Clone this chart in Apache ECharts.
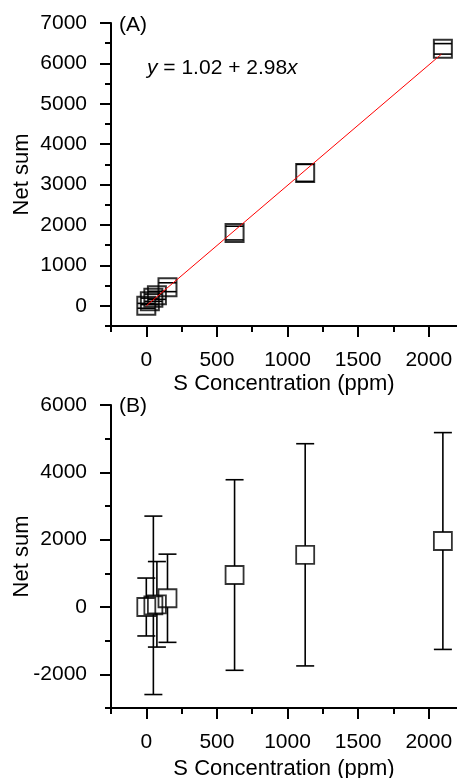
<!DOCTYPE html>
<html>
<head>
<meta charset="utf-8">
<script src="https://cdn.jsdelivr.net/npm/echarts@6/dist/echarts.min.js"></script>
<style>
  html, body { margin: 0; padding: 0; background: #fff; }
  #main { width: 457px; height: 778px; }
</style>
</head>
<body>
<div id="main"></div>
<script>
// panel (A): S concentration (ppm) vs net sum, with error
const concA = [0, 25, 50, 75, 150, 625, 1125, 2100];
const netA = [0, 110, 200, 260, 460, 1800, 3290, 6360];
const errA = [60, 80, 90, 100, 110, 170, 210, 130];
// fitted line y = 1.02 + 2.98x, end points
const fitA = [[0, 1.02], [2090, 6229]];

// panel (B)
const concB = [0, 50, 75, 150, 625, 1125, 2100];
const netB = [0, 50, 80, 260, 950, 1550, 1960];
const errB = [860, 2650, 1270, 1310, 2830, 3300, 3220];

// ticks
const xMajor = [0, 500, 1000, 1500, 2000];
const xMinor = [-250, 250, 750, 1250, 1750];
const yMajorA = [0, 1000, 2000, 3000, 4000, 5000, 6000, 7000];
const yMinorA = [-500, 500, 1500, 2500, 3500, 4500, 5500, 6500];
const yMajorB = [-2000, 0, 2000, 4000, 6000];
const yMinorB = [-3000, -1000, 1000, 3000, 5000];

const FONT = 'Liberation Sans, Arial, sans-serif';
const black = { color: '#000', width: 2 };
const plain = v => String(v);

function xAxes(gridIndex, gap) {
  return [
    {
      gridIndex: gridIndex, type: 'value', min: -250, max: 2200, position: 'bottom',
      name: 'S Concentration (ppm)', nameLocation: 'middle', nameGap: gap, nameMoveOverlap: false,
      nameTextStyle: { fontFamily: FONT, fontSize: 22, color: '#000' },
      axisLine: { show: true, onZero: false, lineStyle: black },
      axisTick: { show: true, customValues: xMajor, length: 11, lineStyle: black },
      axisLabel: { customValues: xMajor, formatter: plain, margin: 24, fontFamily: FONT, fontSize: 21, color: '#000' },
      splitLine: { show: false }
    },
    {
      gridIndex: gridIndex, type: 'value', min: -250, max: 2200, position: 'bottom',
      axisLine: { show: false, onZero: false },
      axisTick: { show: true, customValues: xMinor, length: 6, lineStyle: black },
      axisLabel: { show: false },
      splitLine: { show: false }
    }
  ];
}

function yAxes(gridIndex, min, max, major, minor) {
  return [
    {
      gridIndex: gridIndex, type: 'value', min: min, max: max, position: 'left',
      name: 'Net sum', nameLocation: 'middle', nameGap: 78, nameMoveOverlap: false,
      nameTextStyle: { fontFamily: FONT, fontSize: 22, color: '#000' },
      axisLine: { show: true, onZero: false, lineStyle: black },
      axisTick: { show: true, customValues: major, length: 11, lineStyle: black },
      axisLabel: { customValues: major, formatter: plain, margin: 24, fontFamily: FONT, fontSize: 21, color: '#000' },
      splitLine: { show: false }
    },
    {
      gridIndex: gridIndex, type: 'value', min: min, max: max, position: 'left',
      axisLine: { show: false, onZero: false },
      axisTick: { show: true, customValues: minor, length: 6, lineStyle: black },
      axisLabel: { show: false },
      splitLine: { show: false }
    }
  ];
}

// error bars start at the square's edge, caps as wide as the square
function errorBars(params, api) {
  const x = api.value(0), y = api.value(1), e = api.value(2);
  const c = api.coord([x, y]);
  const top = api.coord([x, y + e])[1];
  const bot = api.coord([x, y - e])[1];
  const half = 9;
  const style = { stroke: '#000', lineWidth: 1.6 };
  const kids = [
    { type: 'line', shape: { x1: c[0] - half, y1: top, x2: c[0] + half, y2: top }, style: style },
    { type: 'line', shape: { x1: c[0] - half, y1: bot, x2: c[0] + half, y2: bot }, style: style }
  ];
  if (c[1] - top > half) {
    kids.push({ type: 'line', shape: { x1: c[0], y1: top, x2: c[0], y2: c[1] - half }, style: style });
  }
  if (bot - c[1] > half) {
    kids.push({ type: 'line', shape: { x1: c[0], y1: c[1] + half, x2: c[0], y2: bot }, style: style });
  }
  return { type: 'group', children: kids };
}

const dataA = concA.map((c, i) => [c, netA[i], errA[i]]);
const dataB = concB.map((c, i) => [c, netB[i], errB[i]]);

const chart = echarts.init(document.getElementById('main'), null, { renderer: 'canvas' });
const option = {
  animation: false,
  backgroundColor: '#fff',
  grid: [
    { left: 111, top: 23, width: 346, height: 303, containLabel: false, outerBoundsMode: 'none' },
    { left: 111, top: 405, width: 346, height: 303, containLabel: false, outerBoundsMode: 'none' }
  ],
  xAxis: [].concat(xAxes(0, 47), xAxes(1, 50)),
  yAxis: [].concat(
    yAxes(0, -500, 7000, yMajorA, yMinorA),
    yAxes(1, -3000, 6000, yMajorB, yMinorB)
  ),
  series: [
    {
      type: 'custom', xAxisIndex: 0, yAxisIndex: 0, renderItem: errorBars,
      data: dataA, encode: { x: 0, y: 1 }, z: 2, silent: true
    },
    {
      type: 'scatter', xAxisIndex: 0, yAxisIndex: 0, symbol: 'rect', symbolSize: 18,
      data: dataA.map(d => [d[0], d[1]]),
      itemStyle: { color: 'rgba(0,0,0,0)', borderColor: '#000', borderWidth: 2 },
      z: 3, silent: true
    },
    {
      type: 'line', xAxisIndex: 0, yAxisIndex: 0, data: fitA, showSymbol: false,
      lineStyle: { color: '#ff0000', width: 1 }, z: 4, silent: true
    },
    {
      type: 'custom', xAxisIndex: 2, yAxisIndex: 2, renderItem: errorBars,
      data: dataB, encode: { x: 0, y: 1 }, z: 2, silent: true
    },
    {
      type: 'scatter', xAxisIndex: 2, yAxisIndex: 2, symbol: 'rect', symbolSize: 18,
      data: dataB.map(d => [d[0], d[1]]),
      itemStyle: { color: 'rgba(0,0,0,0)', borderColor: '#000', borderWidth: 1.8 },
      z: 3, silent: true
    }
  ],
  graphic: [
    {
      type: 'text', x: 119, y: 25,
      style: { text: '(A)', fontFamily: FONT, fontSize: 21, fill: '#000', verticalAlign: 'middle' }
    },
    {
      type: 'text', x: 147, y: 68,
      style: {
        text: '{i|y} = 1.02 + 2.98{i|x}', fontFamily: FONT, fontSize: 21, fill: '#000',
        verticalAlign: 'middle',
        rich: { i: { fontStyle: 'italic', fontFamily: FONT, fontSize: 21, fill: '#000' } }
      }
    },
    {
      type: 'text', x: 119, y: 406,
      style: { text: '(B)', fontFamily: FONT, fontSize: 21, fill: '#000', verticalAlign: 'middle' }
    }
  ]
};
chart.setOption(option);
</script>
</body>
</html>
